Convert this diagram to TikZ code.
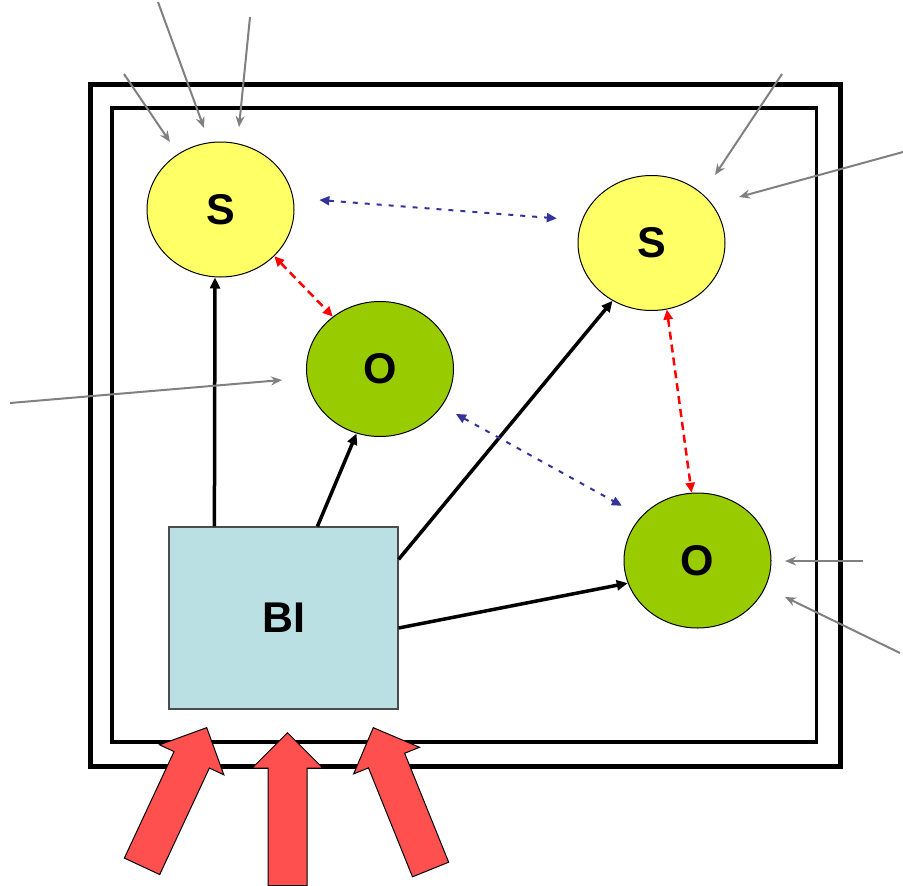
\documentclass[tikz,border=0pt]{standalone}
\usepackage{fontspec}
\setmainfont{Liberation Sans}
\usetikzlibrary{shapes.geometric, shapes.arrows, arrows.meta, positioning}

\definecolor{sunyellow}{HTML}{FFFF66}
\definecolor{leafgreen}{HTML}{99CC00}
\definecolor{paleblue}{HTML}{BBE0E3}
\definecolor{flowred}{HTML}{FF5050}
\definecolor{linkblue}{HTML}{333399}

\begin{document}
\begin{tikzpicture}[x=1pt, y=-1pt,
  lbl/.style={font=\fontsize{43}{48}\selectfont\bfseries},
  subj/.style={ellipse, draw=black, line width=1pt, fill=sunyellow, minimum width=147pt, minimum height=135pt, inner sep=0pt, lbl},
  objc/.style={subj, fill=leafgreen},
  box/.style={rectangle, draw=black!70, line width=1.2pt, fill=paleblue, minimum width=229pt, minimum height=182pt, inner sep=0pt, lbl},
  inflow/.style={single arrow, draw=black, line width=1pt, fill=flowred, minimum height=153pt, inner xsep=0pt, inner ysep=19pt, single arrow head extend=16pt, anchor=tip},
  blk/.style={-{Triangle[length=11pt,width=10pt]}, line width=3.5pt},
  redlink/.style={{Triangle[length=10pt,width=9pt]}-{Triangle[length=10pt,width=9pt]}, red, line width=2.5pt, dash pattern=on 8pt off 5pt},
  bluelink/.style={{Triangle[length=10pt,width=9pt]}-{Triangle[length=10pt,width=9pt]}, linkblue, line width=2pt, dash pattern=on 5pt off 7pt},
  ext/.style={-{Stealth[length=11pt,width=9pt]}, gray, line width=2pt}]

  \useasboundingbox (0,0) rectangle (903,886);

  % double frame
  \draw[line width=5pt] (90,84.5) rectangle (840.5,766);
  \draw[line width=3.5pt] (112,108) rectangle (816.5,742);

  \node[subj] (s1) at (220.5,209.5) {S};
  \node[subj] (s2) at (651.5,243) {S};
  \node[objc] (o1) at (380,369) {O};
  \node[objc] (o2) at (697.5,560.5) {O};
  \node[box] (bi) at (283.5,618) {BI};

  % inflows from below, placed by their tips
  \node[inflow, rotate=65] (in1) at (207,727) {};
  \node[inflow, rotate=90] (in2) at (287.5,732) {};
  \node[inflow, rotate=112] (in3) at (373,727) {};

  \draw[blk] ([xshift=46pt]bi.north west) -- ([xshift=-5.5pt]s1.south);
  \draw[blk] ([xshift=149pt]bi.north west) -- (o1.250);
  \draw[blk] ([yshift=-33pt]bi.north east) -- (s2.236);
  \draw[blk] ([yshift=-10pt]bi.east) -- (o2.198);

  \draw[redlink] (s1.319) -- (o1.132);
  \draw[redlink] (s2.283) -- (o2.95);

  \draw[bluelink, shorten <=26pt, shorten >=25pt] (s1.9) -- (s2.162);
  \draw[bluelink, shorten <=16pt, shorten >=22pt] (o1.-31) -- (o2.142);

  % outside influences
  \coordinate (g1a) at (124,74);  \coordinate (g1b) at (170,142);
  \coordinate (g2a) at (158,2);   \coordinate (g2b) at (204,128);
  \coordinate (g3a) at (250,17);  \coordinate (g3b) at (239,127);
  \coordinate (g4a) at (782,74);  \coordinate (g4b) at (715,175);
  \coordinate (g5a) at (903,152); \coordinate (g5b) at (739,197);
  \coordinate (g6a) at (10,403);  \coordinate (g6b) at (282,380);
  \coordinate (g7a) at (863,561); \coordinate (g7b) at (785,561);
  \coordinate (g8a) at (900,653); \coordinate (g8b) at (785,597);
  \foreach \g in {g1,g2,g3,g4,g5,g6,g7,g8}
    \draw[ext] (\g a) -- (\g b);
\end{tikzpicture}
\end{document}
